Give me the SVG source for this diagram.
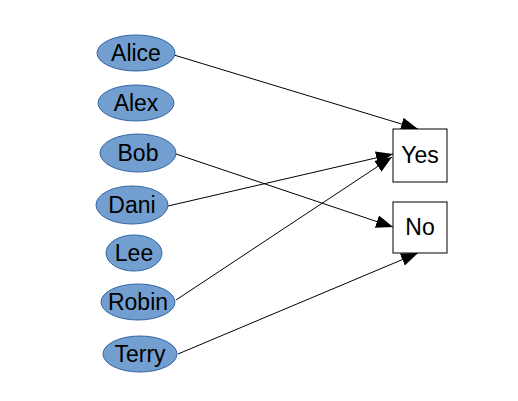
<svg xmlns="http://www.w3.org/2000/svg" width="518" height="401" viewBox="0 0 518 401">
<style>
.n ellipse{fill:#729fcf;stroke:#3465a4;stroke-width:1}
.b rect{fill:#fff;stroke:#000;stroke-width:1}
text{font-family:"Liberation Sans",Arial,sans-serif;font-size:23px;fill:#000;text-anchor:middle}
.e line{stroke:#000;stroke-width:1;marker-end:url(#ah)}
</style>
<defs>
<marker id="ah" markerUnits="userSpaceOnUse" markerWidth="20" markerHeight="14" refX="17" refY="6.5" orient="auto">
<path d="M0,0 L17,6.5 L0,13 Z" fill="#000"/>
</marker>
</defs>
<rect width="518" height="401" fill="#fff"/>
<g id="connectors" class="e">
<line x1="174" y1="55" x2="418" y2="129"/>
<line x1="176" y1="154" x2="393" y2="227"/>
<line x1="168" y1="206" x2="393" y2="154"/>
<line x1="176" y1="300" x2="392" y2="157"/>
<line x1="178" y1="354" x2="418" y2="253"/>
</g>
<g id="alice" class="n"><ellipse cx="136" cy="53" rx="39" ry="18"/><text x="136" y="61">Alice</text></g>
<g id="alex" class="n"><ellipse cx="136" cy="103" rx="38" ry="18"/><text x="136" y="111">Alex</text></g>
<g id="bob" class="n"><ellipse cx="138" cy="153" rx="38" ry="19"/><text x="138" y="161">Bob</text></g>
<g id="dani" class="n"><ellipse cx="132" cy="205" rx="36" ry="19"/><text x="132" y="213">Dani</text></g>
<g id="lee" class="n"><ellipse cx="134" cy="253" rx="28" ry="18"/><text x="134" y="261">Lee</text></g>
<g id="robin" class="n"><ellipse cx="138" cy="302" rx="37" ry="18"/><text x="138" y="310">Robin</text></g>
<g id="terry" class="n"><ellipse cx="140" cy="354" rx="37" ry="18"/><text x="140" y="362">Terry</text></g>
<g id="yes" class="b"><rect x="393" y="129" width="54" height="53"/><text x="420" y="163">Yes</text></g>
<g id="no" class="b"><rect x="393" y="202" width="54" height="51"/><text x="420" y="235">No</text></g>
</svg>
